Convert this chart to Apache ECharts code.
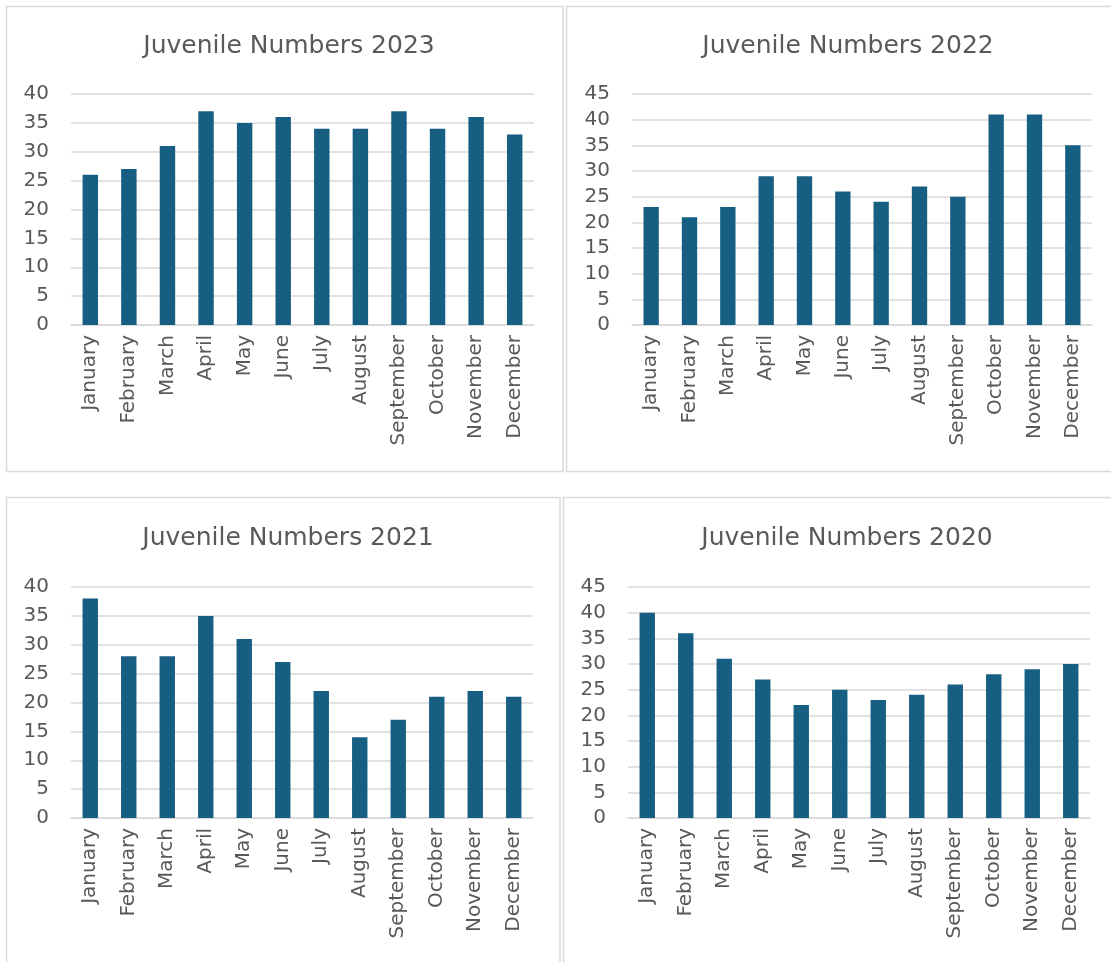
<!DOCTYPE html>
<html>
<head>
<meta charset="utf-8">
<script src="https://cdn.jsdelivr.net/npm/echarts@6/dist/echarts.min.js"></script>
<style>
html,body{margin:0;padding:0;background:#fff;}
#c{width:1111px;height:962px;}
</style>
</head>
<body>
<div id="c"></div>
<script>
const months = ['January','February','March','April','May','June','July','August','September','October','November','December'];
const titles = ['Juvenile Numbers 2023','Juvenile Numbers 2022','Juvenile Numbers 2021','Juvenile Numbers 2020'];
const values2023 = [26,27,31,37,35,36,34,34,37,34,36,33];
const values2022 = [23,21,23,29,29,26,24,27,25,41,41,35];
const values2021 = [38,28,28,35,31,27,22,14,17,21,22,21];
const values2020 = [40,36,31,27,22,25,23,24,26,28,29,30];
const yMax = [40,45,40,45];

const seriesData = [values2023, values2022, values2021, values2020];
const grids = [
  {left:71, top:94, width:463, height:231},
  {left:632, top:94, width:460, height:231},
  {left:71, top:587, width:462, height:231},
  {left:628, top:587, width:462, height:231}
];
const titlePos = [
  {cx:284, top:29},
  {cx:843, top:29},
  {cx:283, top:521},
  {cx:842, top:521}
];
const FONT = 'DejaVu Sans';
const TXT = '#595959';
const GRID = '#D9D9D9';
const BAR = '#175F82';

const chart = echarts.init(document.getElementById('c'), null, {renderer:'canvas'});
const option = {
  animation:false,
  backgroundColor:'#fff',
  title: titles.map((t,i)=>({
    text:t, left:titlePos[i].cx, top:titlePos[i].top, textAlign:'center',
    textStyle:{fontFamily:FONT, fontSize:25, fontWeight:'normal', color:TXT}
  })),
  grid: grids.map(g=>Object.assign({containLabel:false}, g)),
  xAxis: grids.map((g,i)=>({
    type:'category', gridIndex:i, data:months,
    axisLine:{show:true, lineStyle:{color:GRID, width:1.5}},
    axisTick:{show:false},
    axisLabel:{rotate:90, interval:0, margin:10, fontFamily:FONT, fontSize:20, color:TXT}
  })),
  yAxis: grids.map((g,i)=>({
    type:'value', gridIndex:i, min:0, max:yMax[i], interval:5,
    axisLine:{show:false}, axisTick:{show:false},
    splitLine:{show:true, lineStyle:{color:GRID, width:1.5}},
    axisLabel:{margin:22, fontFamily:FONT, fontSize:20, color:TXT}
  })),
  series: seriesData.map((d,i)=>({
    type:'bar', xAxisIndex:i, yAxisIndex:i, data:d,
    barWidth:'40%',
    itemStyle:{color:BAR}
  })),
  graphic: [
    {type:'rect', shape:{x:6.5, y:6.5, width:556.5, height:465}, style:{fill:null, stroke:GRID, lineWidth:1.5}, silent:true},
    {type:'rect', shape:{x:566.5, y:6.5, width:560, height:465}, style:{fill:null, stroke:GRID, lineWidth:1.5}, silent:true},
    {type:'rect', shape:{x:6.5, y:497.5, width:553.5, height:480}, style:{fill:null, stroke:GRID, lineWidth:1.5}, silent:true},
    {type:'rect', shape:{x:563.5, y:497.5, width:560, height:480}, style:{fill:null, stroke:GRID, lineWidth:1.5}, silent:true}
  ]
};
chart.setOption(option);
</script>
</body>
</html>
